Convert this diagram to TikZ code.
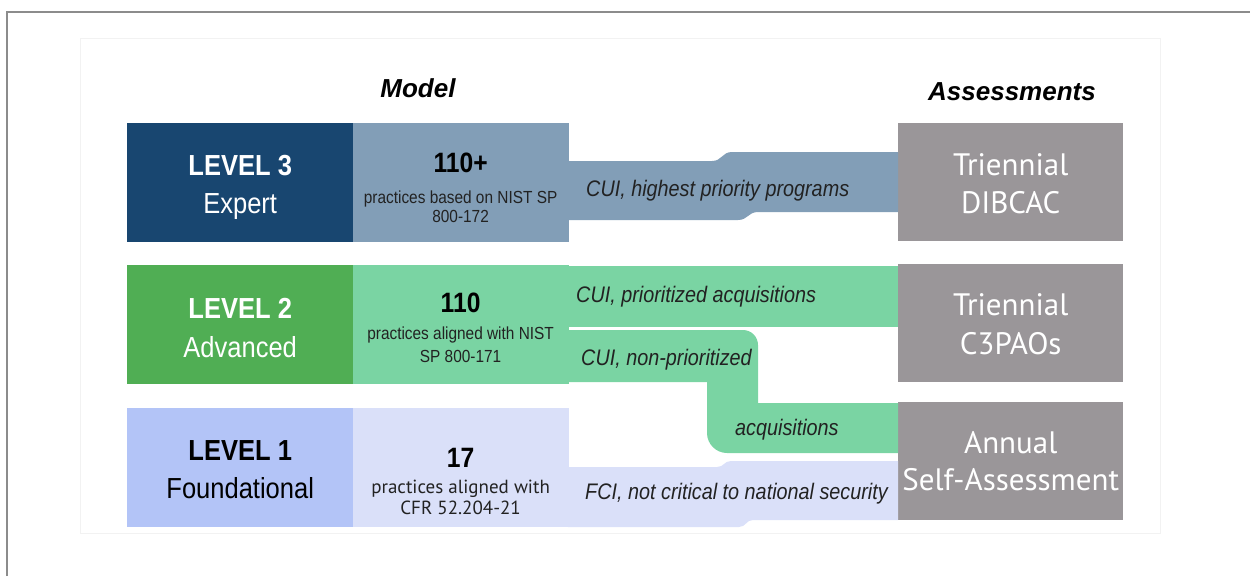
\documentclass[tikz,border=0pt]{standalone}
\usepackage{fontspec}
\setmainfont{Liberation Sans}
\newfontfamily\narrowsf[FakeStretch=0.88]{Liberation Sans}
\newfontfamily\ptsans{PT Sans}
\usepackage{tikz}
\usetikzlibrary{positioning,calc}
\definecolor{cmnavy}{RGB}{24,70,112}
\definecolor{cmsteel}{RGB}{130,158,183}
\definecolor{cmgreen}{RGB}{80,174,84}
\definecolor{cmmint}{RGB}{122,212,163}
\definecolor{cmlavender}{RGB}{179,196,247}
\definecolor{cmpale}{RGB}{218,224,249}
\definecolor{cmgray}{RGB}{154,150,153}
\definecolor{cmtext}{RGB}{34,34,34}
\definecolor{cmframe}{RGB}{140,140,140}
\tikzstyle{levelbox} = [rectangle, anchor=north west, minimum width=226pt, minimum height=119pt, inner sep=0pt]
\tikzstyle{practbox} = [rectangle, minimum width=216pt, minimum height=119pt, inner sep=0pt]
\tikzstyle{assessbox} = [rectangle, anchor=north west, minimum width=225pt, minimum height=118pt, inner sep=0pt, fill=cmgray]
\tikzstyle{leveltext} = [anchor=base, inner sep=0pt, font=\narrowsf\fontsize{29}{29}\selectfont]
\tikzstyle{numtext} = [anchor=base, inner sep=0pt, text=black, font=\narrowsf\bfseries\fontsize{28}{28}\selectfont]
\tikzstyle{smalltext} = [anchor=base, inner sep=0pt, text=cmtext, font=\narrowsf\fontsize{17.5}{17.5}\selectfont]
\tikzstyle{bandtext} = [anchor=base west, inner sep=0pt, text=cmtext, font=\narrowsf\itshape\fontsize{22.5}{22.5}\selectfont]
\tikzstyle{assesstext} = [anchor=base, inner sep=0pt, text=white, font=\ptsans\fontsize{31}{31}\selectfont]
\tikzstyle{header} = [anchor=base, inner sep=0pt, font=\bfseries\itshape\fontsize{26}{26}\selectfont]

\begin{document}
\begin{tikzpicture}[x=1pt, y=-1pt]
\useasboundingbox (0,0) rectangle (1250,576);
% frame and panel
\draw[cmframe, line width=1.5pt] (7,576) -- (7,12) -- (1250,12);
\draw[black!5] (80,38) rectangle (1160,533);

% column headers
\node (model) [header] at (418,97) {Model};
\node (assess) [header] at (1012,100) {Assessments};

% model: levels and practices
\node (lvthree) [levelbox, fill=cmnavy] at (127,123) {};
\node (prthree) [practbox, right=-1pt of lvthree, fill=cmsteel] {};
\node (lvtwo) [levelbox, fill=cmgreen] at (127,265) {};
\node (prtwo) [practbox, right=-1pt of lvtwo, fill=cmmint] {};
\node (lvone) [levelbox, fill=cmlavender] at (127,408) {};
\node (prone) [practbox, right=-1pt of lvone, fill=cmpale] {};

% assessments
\node (asthree) [assessbox] at (898,123) {};
\node (astwo) [assessbox] at (898,264) {};
\node (asone) [assessbox] at (898,402) {};

% bands from practices to assessments
\fill[cmsteel] ([xshift=-1pt]prthree.east |- 0,161) -- (712,161) .. controls (722,161) and (722,152) .. (732,152)
  -- (asthree.west |- 0,152) -- (asthree.west |- 0,212) -- (758,212)
  .. controls (748,212) and (748,220) .. (738,220) -- ([xshift=-1pt]prthree.east |- 0,220) -- cycle;
\fill[cmmint] ([xshift=-1pt]prtwo.east |- 0,266) rectangle (astwo.west |- 0,327);
\fill[cmmint] ([xshift=-1pt]prtwo.east |- 0,330) -- (743,330) .. controls (751.3,330) and (758,336.7) .. (758,345)
  -- (758,403) -- (asone.west |- 0,403) -- (asone.west |- 0,453) -- (727,453)
  .. controls (716,453) and (707,444) .. (707,433) -- (707,382) -- ([xshift=-1pt]prtwo.east |- 0,382) -- cycle;
\fill[cmpale] ([xshift=-1pt]prone.east |- 0,467) -- (717,467) .. controls (724,467) and (724,461) .. (731,461)
  -- (asone.west |- 0,461) -- (asone.west |- 0,520) -- (753,520)
  .. controls (746,520) and (746,527) .. (739,527) -- ([xshift=-1pt]prone.east |- 0,527) -- cycle;

% level labels
\node (lvthreea) [leveltext, text=white] at ($(lvthree.north)+(0,52)$) {\bfseries LEVEL 3};
\node (lvthreeb) [leveltext, text=white] at ($(lvthree.north)+(0,90)$) {Expert};
\node (lvtwoa) [leveltext, text=white] at ($(lvtwo.north)+(0,53)$) {\bfseries LEVEL 2};
\node (lvtwob) [leveltext, text=white] at ($(lvtwo.north)+(0,92)$) {Advanced};
\node (lvonea) [leveltext, text=black] at ($(lvone.north)+(0,52)$) {\bfseries LEVEL 1};
\node (lvoneb) [leveltext, text=black] at ($(lvone.north)+(0,90)$) {Foundational};

% practice counts
\node (numthree) [numtext] at ($(prthree.north)+(0,49)$) {110+};
\node (txthreea) [smalltext] at ($(prthree.north)+(0,80)$) {practices based on NIST SP};
\node (txthreeb) [smalltext] at ($(prthree.north)+(0,99)$) {800-172};
\node (numtwo) [numtext] at ($(prtwo.north)+(0,47)$) {110};
\node (txtwoa) [smalltext] at ($(prtwo.north)+(0,74)$) {practices aligned with NIST};
\node (txtwob) [smalltext] at ($(prtwo.north)+(0,97)$) {SP 800-171};
\node (numone) [numtext] at ($(prone.north)+(0,59)$) {17};
\node (txonea) [smalltext, font=\ptsans\fontsize{19}{19}\selectfont] at ($(prone.north)+(0,85)$) {practices aligned with};
\node (txoneb) [smalltext, font=\ptsans\fontsize{19}{19}\selectfont] at ($(prone.north)+(0,106)$) {CFR 52.204-21};

% band labels
\node (cuihigh) [bandtext] at (586,196) {CUI, highest priority programs};
\node (cuiprio) [bandtext] at (576,302) {CUI, prioritized acquisitions};
\node (cuinon) [bandtext] at (581,365) {CUI, non-prioritized};
\node (cuiacq) [bandtext] at (735,435) {acquisitions};
\node (fci) [bandtext] at (585,499) {FCI, not critical to national security};

% assessment labels
\node (asthreea) [assesstext] at ($(asthree.north)+(0,52)$) {Triennial};
\node (asthreeb) [assesstext] at ($(asthree.north)+(0,90)$) {DIBCAC};
\node (astwoa) [assesstext] at ($(astwo.north)+(0,51)$) {Triennial};
\node (astwob) [assesstext] at ($(astwo.north)+(0,90)$) {C3PAOs};
\node (asonea) [assesstext] at ($(asone.north)+(0,51)$) {Annual};
\node (asoneb) [assesstext] at ($(asone.north)+(0,88)$) {Self-Assessment};
\end{tikzpicture}
\end{document}
